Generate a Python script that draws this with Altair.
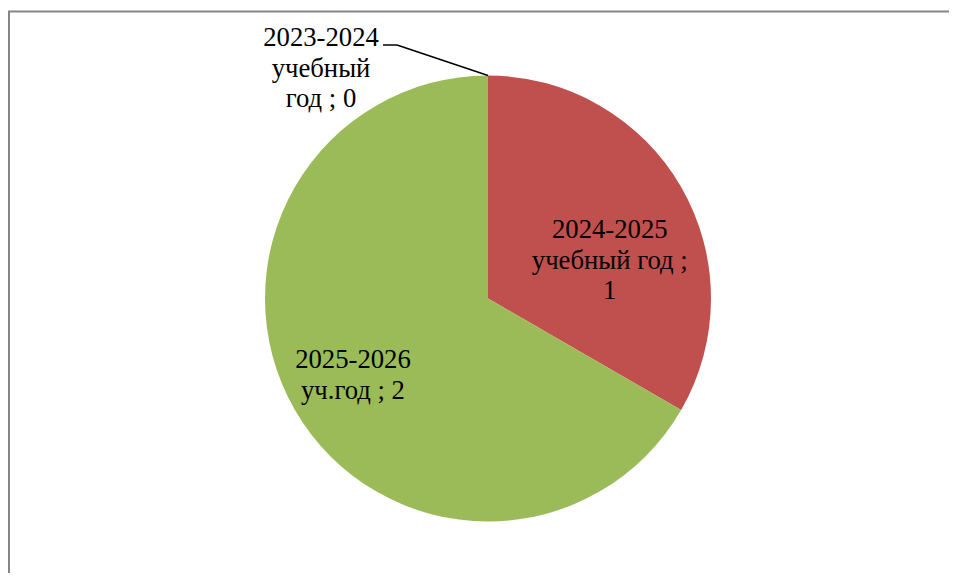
import altair as alt
import pandas as pd

# ---- data ----
categories = ["2023-2024 учебный год", "2024-2025 учебный год", "2025-2026 уч.год"]
values = [0, 1, 2]
label_text = ["2023-2024\nучебный\nгод ; 0", "2024-2025\nучебный год ;\n1", "2025-2026\nуч.год ; 2"]
colors = ["#4F81BD", "#C0504D", "#9BBB59"]

df = pd.DataFrame({"idx": list(range(len(values))), "cat": categories,
                   "value": values, "label": label_text})

# ---- layout ----
W, H = 941, 565
CX, CY, R = 480, 290.5, 223
FONT = "Liberation Serif"
FS = 26.7
LH = 30.5

theta = alt.Theta("value:Q", stack=True)
order = alt.Order("idx:Q", sort="ascending")
base = alt.Chart(df)

pie = base.mark_arc(radius=R).encode(
    theta=theta,
    order=order,
    color=alt.Color("cat:N", scale=alt.Scale(domain=categories, range=colors), legend=None),
    x=alt.value(CX),
    y=alt.value(CY),
)


def label_layer(i, radius, dx, dy):
    return base.transform_calculate(
        t=f"datum.idx == {i} ? datum.label : ''"
    ).mark_text(
        radius=radius, dx=dx, dy=dy, font=FONT, fontSize=FS, lineHeight=LH,
        lineBreak="\n", align="center", baseline="alphabetic", color="black",
    ).encode(
        theta=theta, order=order, text="t:N", x=alt.value(CX), y=alt.value(CY)
    )


lab0 = label_layer(0, 252.5, -167, 0)
lab1 = label_layer(1, 136, 4, 7.5)
lab2 = label_layer(2, 152, -3.4, -6.5)

one = alt.Chart(pd.DataFrame({"a": [0]}))

leader1 = one.mark_rule(color="black", strokeWidth=1.5).encode(
    x=alt.value(375), x2=alt.value(389), y=alt.value(37), y2=alt.value(37))
leader2 = one.mark_rule(color="black", strokeWidth=1.5).encode(
    x=alt.value(389), x2=alt.value(CX), y=alt.value(37), y2=alt.value(CY - R))

# outer chart-area frame: only its top and left edges fall inside the page
frame = one.mark_rect(fillOpacity=0, stroke="#868686", strokeWidth=2).encode(
    x=alt.value(1), x2=alt.value(W + 20), y=alt.value(3.5), y2=alt.value(H + 30))

chart = alt.layer(frame, pie, leader1, leader2, lab0, lab1, lab2).properties(
    width=W, height=H,
    autosize=alt.AutoSizeParams(type="none"),
    padding=0,
    background="white",
).configure_view(stroke=None)

chart.save("out.html", embed_options={"renderer": "svg", "actions": False})
